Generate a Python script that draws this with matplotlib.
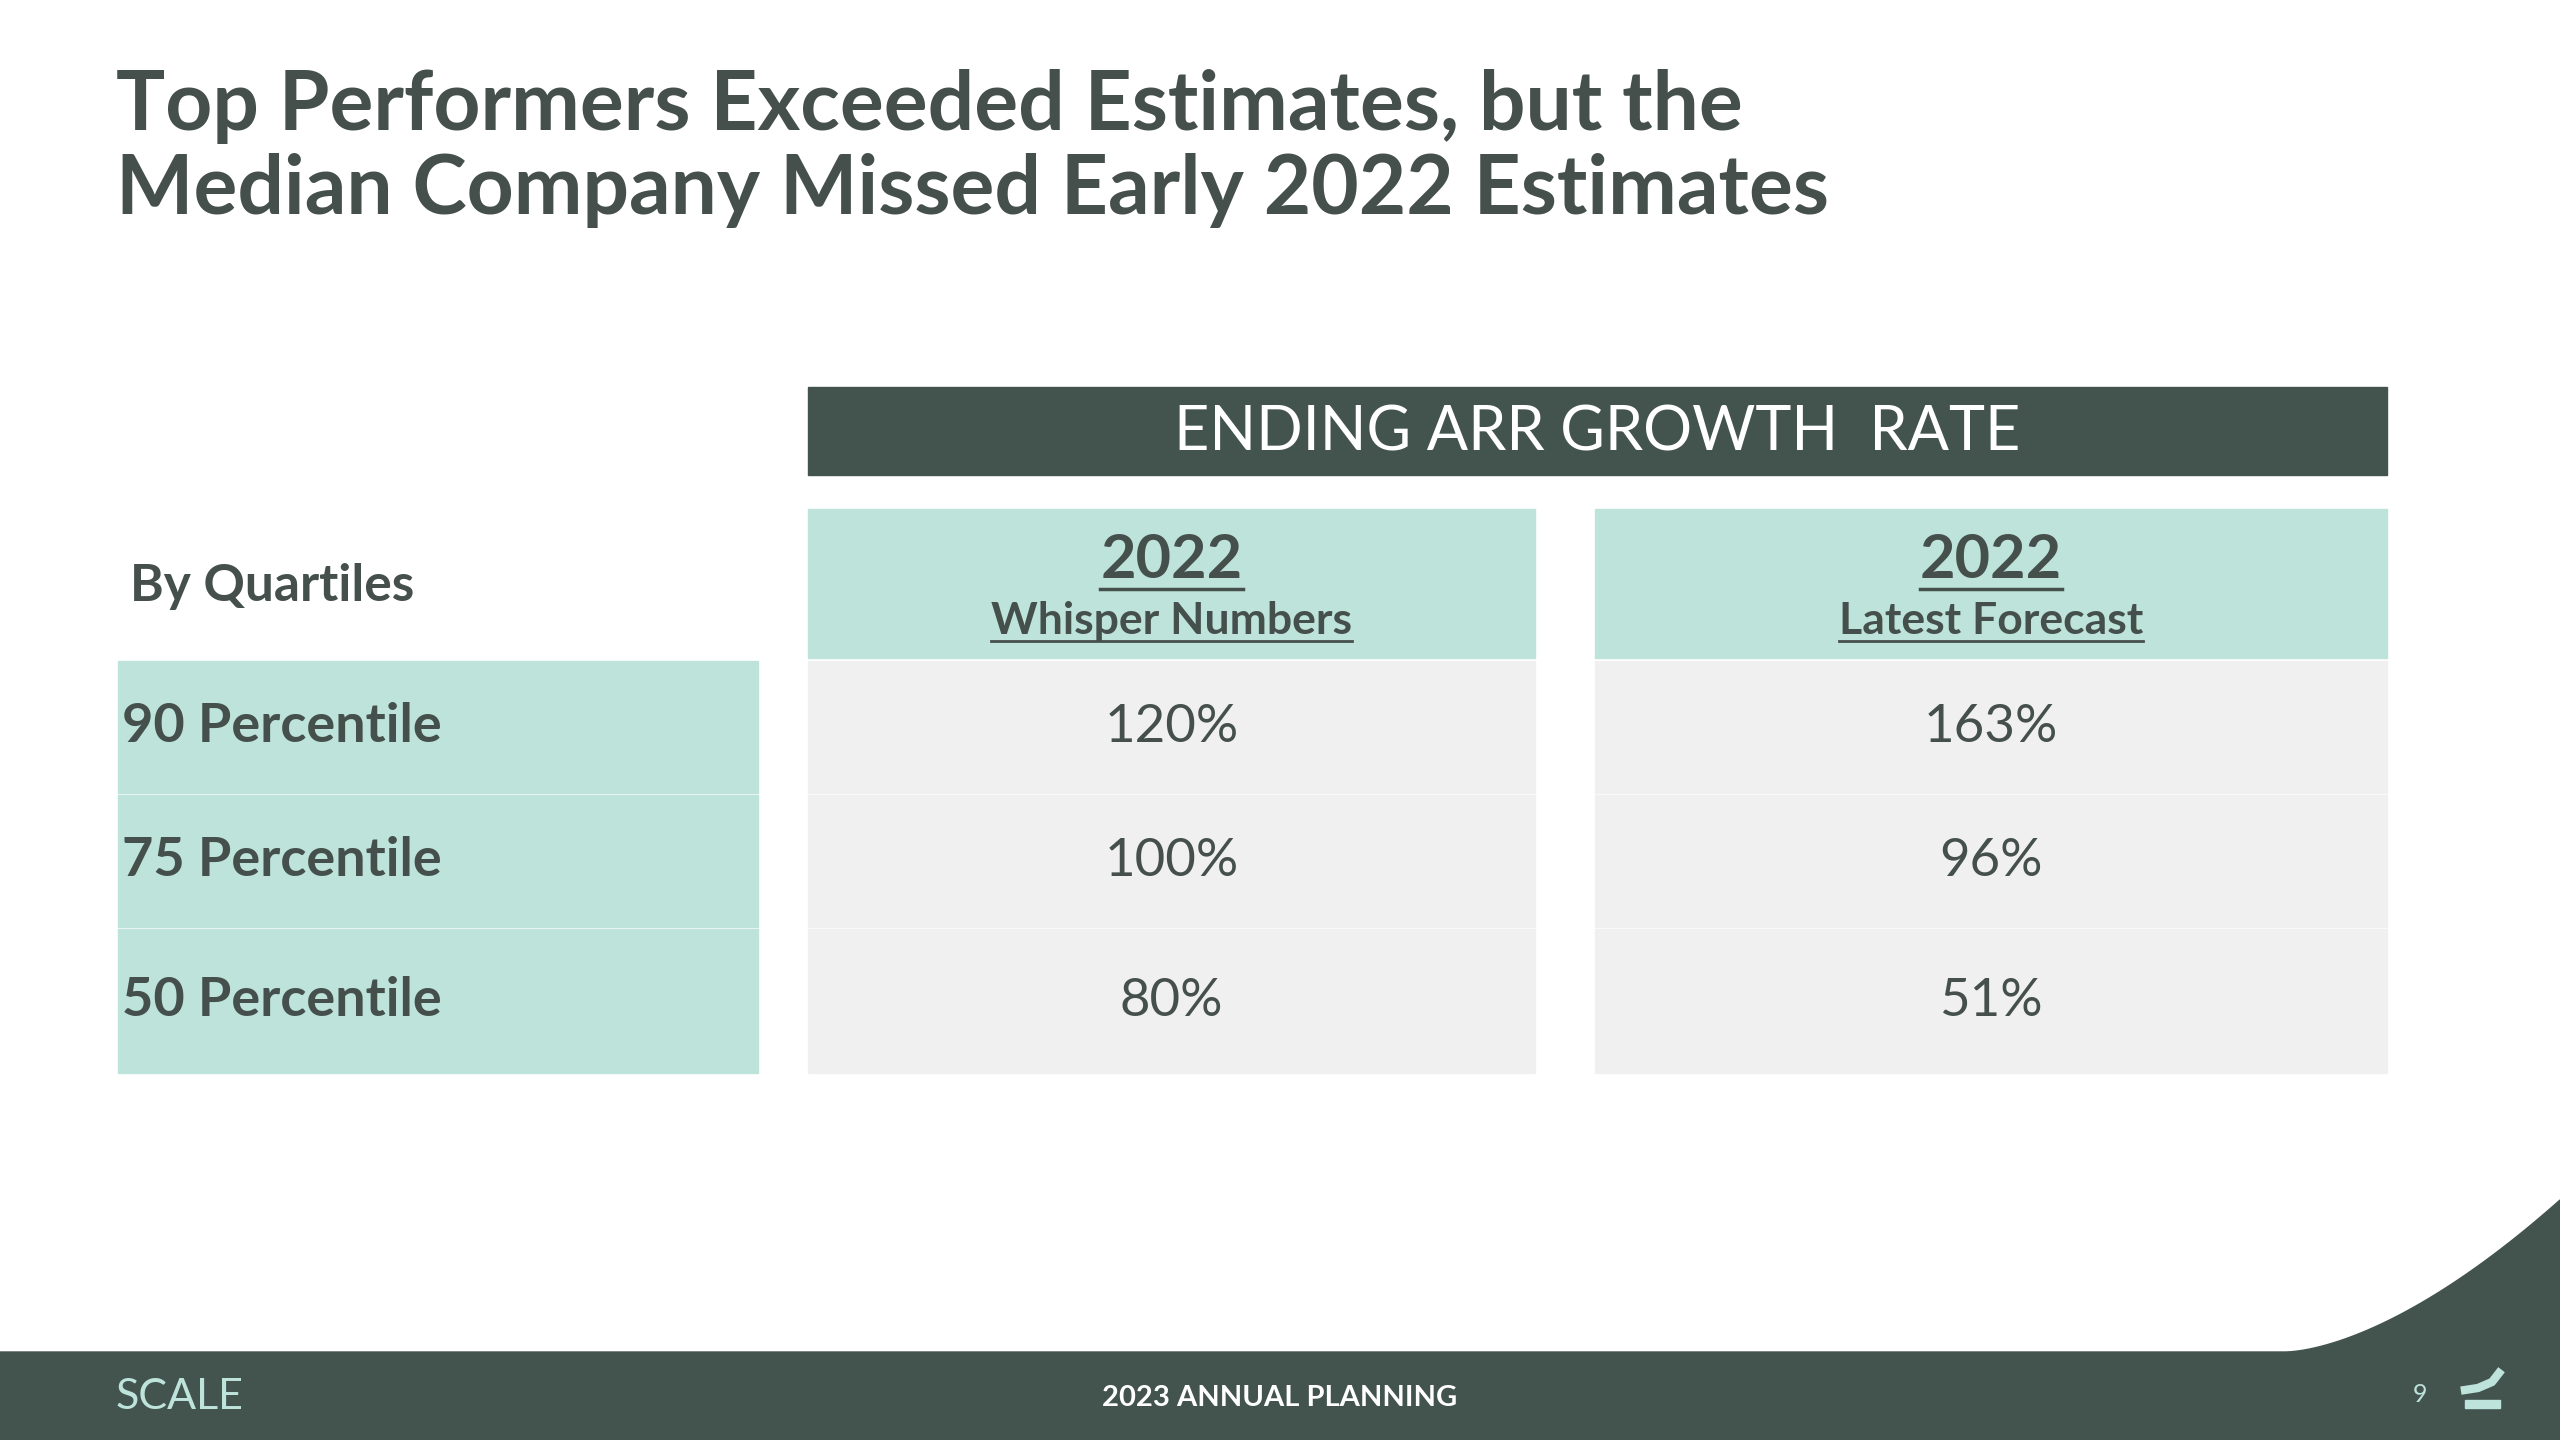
import matplotlib.pyplot as plt
from matplotlib.patches import Rectangle, Polygon
import numpy as np

title_lines = ['Top Performers Exceeded Estimates, but the',
               'Median Company Missed Early 2022 Estimates']
header = 'ENDING ARR GROWTH  RATE'
col_years = ['2022', '2022']
col_names = ['Whisper Numbers', 'Latest Forecast']
row_labels = ['90 Percentile', '75 Percentile', '50 Percentile']
whisper = ['120%', '100%', '80%']
latest = ['163%', '96%', '51%']

dark = '#43544f'
mint = '#bde3da'
light = '#f0f0f0'
txt = '#45504c'

plt.rcParams['font.family'] = ['Lato', 'DejaVu Sans']
fig = plt.figure(figsize=(25.6, 14.4), dpi=100)
ax = fig.add_axes([0, 0, 1, 1])
ax.set_xlim(0, 2560)
ax.set_ylim(1440, 0)
ax.axis('off')

for i, line in enumerate(title_lines):
    ax.text(116, 106 + i * 85, line, fontsize=59, fontweight='bold', color=txt, va='center', ha='left')

# header bar
ax.add_patch(Rectangle((808, 387), 1579, 88, color=dark))
ax.text(1597, 433, header, fontsize=44, color='white', ha='center', va='center')

cols = [(808, 727), (1595, 792)]
rows = [(661, 132), (795, 132), (929, 144)]
ax.text(130, 586, 'By Quartiles', fontsize=37, fontweight='bold', color=txt, va='center')

fig.canvas.draw()
renderer = fig.canvas.get_renderer()
inv = ax.transData.inverted()


def underline(t, y, lw):
    bb = t.get_window_extent(renderer)
    x0 = inv.transform((bb.x0, bb.y0))[0]
    x1 = inv.transform((bb.x1, bb.y0))[0]
    ax.plot([x0, x1], [y, y], color=txt, lw=lw)


for (cx, cw), yr, nm in zip(cols, col_years, col_names):
    ax.add_patch(Rectangle((cx, 509), cw, 149, color=mint))
    t1 = ax.text(cx + cw / 2, 560, yr, fontsize=44, fontweight='bold', color=txt, ha='center', va='center')
    t2 = ax.text(cx + cw / 2, 621, nm, fontsize=32, fontweight='bold', color=txt, ha='center', va='center')
    underline(t1, 589, 2.5)
    underline(t2, 641, 2)

for (ry, rh), lab, a, b in zip(rows, row_labels, whisper, latest):
    ax.add_patch(Rectangle((118, ry), 640, rh, color=mint))
    ax.text(122, ry + rh / 2, lab, fontsize=39, fontweight='bold', color=txt, va='center')
    for (cx, cw), val in zip(cols, [a, b]):
        ax.add_patch(Rectangle((cx, ry), cw, rh, color=light))
        ax.text(cx + cw / 2, ry + rh / 2, val, fontsize=38, color=txt, ha='center', va='center')

# footer with curve
t = np.linspace(0, 1, 60)
cx_ = 2286 + 274 * t
cy_ = 1352 - 152 * t ** 1.6
pts = [(0, 1440), (0, 1352)] + list(zip(cx_, cy_)) + [(2560, 1440)]
ax.add_patch(Polygon(pts, closed=True, color=dark))
ax.text(116, 1397, 'SCALE', fontsize=31, color=mint, va='center')
ax.text(1280, 1398, '2023 ANNUAL PLANNING', fontsize=21, fontweight='bold', color='white', ha='center', va='center')
ax.text(2420, 1395, '9', fontsize=18, color=mint, ha='center', va='center')
ax.add_patch(Rectangle((2465, 1400), 35, 8, color=mint))
ax.plot([2465, 2478, 2492, 2499], [1390, 1388, 1382, 1373], color=mint, lw=6)

fig.savefig('out.png', dpi=100)
